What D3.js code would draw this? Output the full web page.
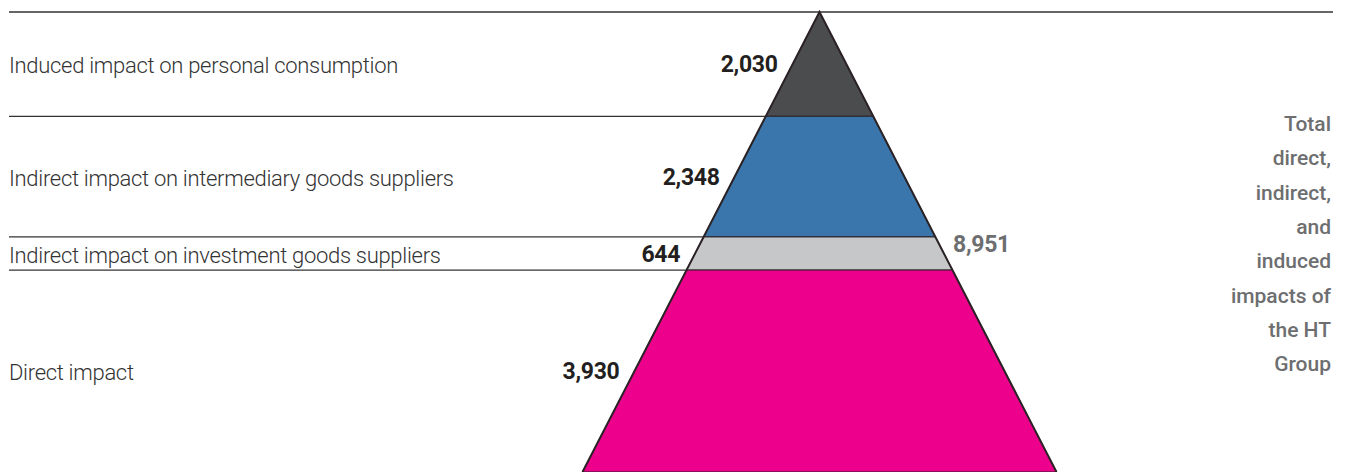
<!DOCTYPE html>
<html>
<head>
<meta charset="utf-8">
<script src="https://cdn.jsdelivr.net/npm/d3@7"></script>
<style>
  html, body { margin: 0; padding: 0; background: #fff; }
  svg { display: block; }
</style>
</head>
<body>
<svg id="chart" width="1349" height="472"></svg>
<script>
const categories = [
  "Induced impact on personal consumption",
  "Indirect impact on intermediary goods suppliers",
  "Indirect impact on investment goods suppliers",
  "Direct impact"
];
const values = [2030, 2348, 644, 3930];
const valueLabels = ["2,030", "2,348", "644", "3,930"];
const layerColors = ["#4b4c4e", "#3a76ab", "#c6c7c9", "#ec008c"];
const totalValue = [8951];
const totalLabel = ["8,951"];
const totalText = ["Total", "direct,", "indirect,", "and", "induced", "impacts of", "the HT", "Group"];

const W = 1349, H = 472;
const svg = d3.select("#chart");

const sum = d3.sum(values);
const apexX = 819.5;
const y = d3.scaleLinear().domain([0, sum]).range([12, 472]);
const half = d3.scaleLinear().domain([0, sum]).range([0, 237]);

let cum = 0;
const layers = values.map((v, i) => {
  const d = { i, v, start: cum, end: cum + v };
  cum += v;
  return d;
});

const leftX = t => apexX - half(t);
const rightX = t => apexX + half(t);

// horizontal rules
svg.append("line")
  .attr("x1", 9).attr("x2", 1333)
  .attr("y1", y(0)).attr("y2", y(0))
  .attr("stroke", "#333").attr("stroke-width", 1.3);

layers.slice(0, layers.length - 1).forEach(d => {
  svg.append("line")
    .attr("x1", 9).attr("x2", leftX(d.end))
    .attr("y1", y(d.end)).attr("y2", y(d.end))
    .attr("stroke", "#333").attr("stroke-width", 1.3);
});

// layers
svg.selectAll("path.layer").data(layers).enter().append("path")
  .attr("class", "layer")
  .attr("d", d => {
    const pts = [
      [leftX(d.start), y(d.start)],
      [rightX(d.start), y(d.start)],
      [rightX(d.end), y(d.end)],
      [leftX(d.end), y(d.end)]
    ];
    return "M" + pts.map(p => p.join(",")).join("L") + "Z";
  })
  .attr("fill", d => layerColors[d.i])
  .attr("stroke", "#2b2226").attr("stroke-width", 1)
  .attr("stroke-linejoin", "round");

// outer edges
svg.append("path")
  .attr("d", `M${leftX(sum)},${y(sum)}L${apexX},${y(0)}L${rightX(sum)},${y(sum)}`)
  .attr("fill", "none")
  .attr("stroke", "#2b2226").attr("stroke-width", 2)
  .attr("stroke-linejoin", "miter");

// category labels
svg.selectAll("text.cat").data(layers).enter().append("text")
  .attr("class", "cat")
  .attr("x", 9)
  .attr("y", d => y((d.start + d.end) / 2) + 9)
  .attr("font-family", "Roboto, sans-serif")
  .attr("font-weight", 300)
  .attr("font-size", 22)
  .attr("letter-spacing", -0.3)
  .attr("fill", "#333")
  .text(d => categories[d.i]);

// value labels
svg.selectAll("text.val").data(layers).enter().append("text")
  .attr("class", "val")
  .attr("x", d => leftX((d.start + d.end) / 2) - 15)
  .attr("y", d => y((d.start + d.end) / 2) + 8)
  .attr("text-anchor", "end")
  .attr("font-family", "Roboto, sans-serif")
  .attr("font-weight", 700)
  .attr("font-size", 23)
  .attr("letter-spacing", -0.3)
  .attr("fill", "#231f20")
  .text(d => valueLabels[d.i]);

// total label
const tMid = totalValue[0] / 2;
svg.append("text")
  .attr("x", rightX(tMid) + 15)
  .attr("y", y(tMid) + 10)
  .attr("font-family", "Roboto, sans-serif")
  .attr("font-weight", 700)
  .attr("font-size", 23)
  .attr("letter-spacing", -0.3)
  .attr("fill", "#6d6e70")
  .text(totalLabel[0]);

// right text block
svg.selectAll("text.tot").data(totalText).enter().append("text")
  .attr("class", "tot")
  .attr("x", 1331)
  .attr("y", (d, i) => 131 + i * 34.3)
  .attr("text-anchor", "end")
  .attr("font-family", "Roboto, sans-serif")
  .attr("font-weight", 500)
  .attr("font-size", 21)
  .attr("fill", "#6d6e70")
  .text(d => d);
</script>
</body>
</html>
